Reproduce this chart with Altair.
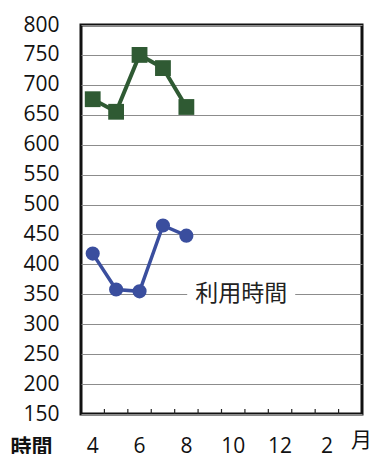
import altair as alt
import pandas as pd

# ---- data ----
months = ["4", "5", "6", "7", "8", "9", "10", "11", "12", "1", "2", "3"]
shown_month_labels = ["4", "6", "8", "10", "12", "2"]
green_months = ["4", "5", "6", "7", "8"]
green_values = [676, 655, 750, 728, 663]
blue_months = ["4", "5", "6", "7", "8"]
blue_values = [418, 358, 355, 465, 448]
series_label = "利用時間"
series_label_month = "10"
series_label_value = 350
y_min, y_max, y_step = 150, 800, 50
x_title = "月"
y_title = "時間"

W, H = 281, 389
GREEN = "#2f5a33"
BLUE = "#3a4e9e"

green_df = pd.DataFrame({"m": green_months, "v": green_values})
blue_df = pd.DataFrame({"m": blue_months, "v": blue_values})
tick_df = pd.DataFrame({"m": months[1:]})
label_df = pd.DataFrame({"m": [series_label_month], "v": [series_label_value], "t": [series_label]})

xscale = alt.Scale(domain=months, paddingInner=0, paddingOuter=0)
yscale = alt.Scale(domain=[y_min, y_max], nice=False, zero=False)

y_values = [int(v) for v in range(y_min, y_max + 1, y_step)]

label_list = "[" + ",".join("'%s'" % s for s in shown_month_labels) + "]"
x_axis = alt.Axis(
    title=x_title, labelExpr="indexof(%s, datum.label) >= 0 ? datum.label : ''" % label_list,
    ticks=False, domain=False, grid=False, labelAngle=0, labelFontSize=21,
    labelPadding=21, labelColor="#111", titleX=W - 1, titleY=26, titleAngle=0,
    titleAlign="center", titleBaseline="middle", titleFontSize=21,
    titleFontWeight="normal", titleColor="#111", labelFont="Open Sans",
    titleFont="Noto Sans CJK JP", labelOverlap=False,
)
y_axis = alt.Axis(
    title=y_title, values=y_values, tickCount=len(y_values), ticks=False,
    domain=False, grid=True, gridColor="#8c8c8c", gridWidth=1, labelFontSize=21,
    labelPadding=22, labelColor="#111", labelFont="Open Sans",
    labelOverlap=False, labelFlush=False,
    titleAngle=0, titleX=-50, titleY=H + 33, titleAlign="center",
    titleBaseline="middle", titleFontSize=21, titleFontWeight="bold",
    titleColor="#111", titleFont="Noto Sans CJK JP",
)

X = alt.X("m:O", scale=xscale, axis=x_axis, sort=months)
Y = alt.Y("v:Q", scale=yscale, axis=y_axis)

green_line = alt.Chart(green_df).mark_line(color=GREEN, strokeWidth=4).encode(x=X, y=Y)
green_pts = alt.Chart(green_df).mark_point(
    shape="square", filled=True, color=GREEN, opacity=1, size=250).encode(x=X, y=Y)
blue_line = alt.Chart(blue_df).mark_line(color=BLUE, strokeWidth=3.5).encode(x=X, y=Y)
blue_pts = alt.Chart(blue_df).mark_point(
    shape="circle", filled=True, color=BLUE, opacity=1, size=200).encode(x=X, y=Y)

ticks = alt.Chart(tick_df).mark_rule(color="#222", strokeWidth=1.2).encode(
    x=alt.X("m:O", scale=xscale, axis=x_axis, sort=months, bandPosition=0),
    y=alt.value(H - 5), y2=alt.value(H))

label_bg = alt.Chart(label_df).mark_point(
    shape="M-1,-0.22H1V0.22H-1Z", filled=True, color="white", opacity=1,
    size=108 * 108, xOffset=8).encode(x=X, y=Y)
label_txt = alt.Chart(label_df).mark_text(
    fontSize=23, font="Noto Sans CJK JP", color="#222", xOffset=8,
    align="center", baseline="middle").encode(x=X, y=Y, text="t:N")

chart = alt.layer(
    green_line, label_bg, label_txt, ticks, blue_line, blue_pts, green_pts
).properties(
    width=W, height=H,
    autosize=alt.AutoSizeParams(type="none"),
    padding={"left": 81, "top": 25, "right": 9, "bottom": 40},
    background="white",
).configure_view(stroke="#111", strokeWidth=3)

chart.save("out.html", embed_options={"renderer": "svg", "actions": False})
